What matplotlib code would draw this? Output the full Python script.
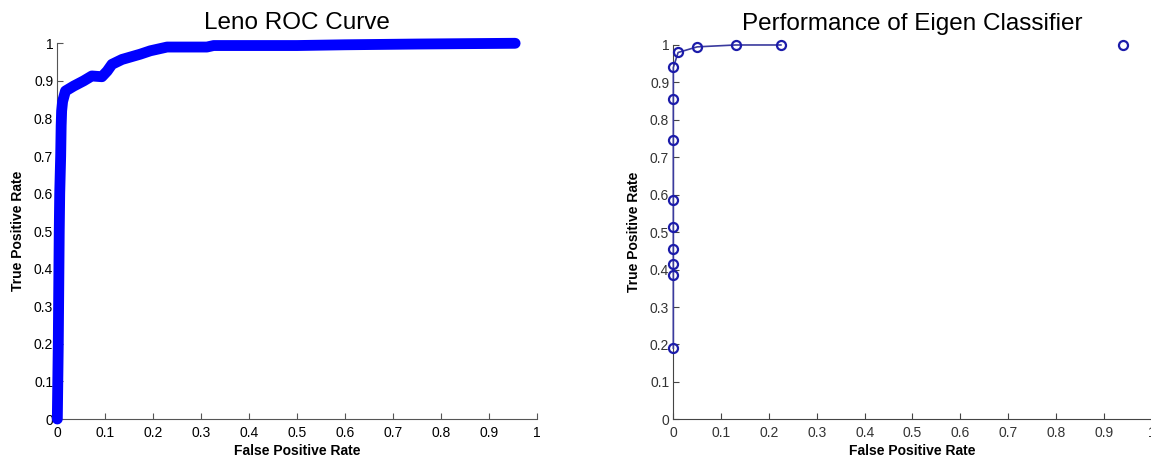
import numpy as np
import matplotlib.pyplot as plt

plt.rcParams['font.family'] = ['Liberation Sans', 'DejaVu Sans']

# Leno ROC curve
leno_fpr = [0.0, 0.001, 0.002, 0.003, 0.004, 0.005, 0.007, 0.008, 0.009, 0.011,
            0.017, 0.034, 0.055, 0.072, 0.093, 0.104, 0.114, 0.135, 0.173,
            0.194, 0.229, 0.312, 0.326, 0.5, 0.6, 0.75, 0.85, 0.955]
leno_tpr = [0.0, 0.1, 0.2, 0.35, 0.5, 0.6, 0.7, 0.78, 0.82, 0.845,
            0.873, 0.886, 0.900, 0.913, 0.911, 0.926, 0.944, 0.957, 0.971,
            0.980, 0.990, 0.990, 0.994, 0.994, 0.996, 0.998, 0.999, 1.0]

# Eigen classifier operating points
eigen_fpr = [0.0, 0.0, 0.0, 0.0, 0.0, 0.0, 0.0, 0.0, 0.0, 0.01, 0.05, 0.13, 0.225]
eigen_tpr = [0.19, 0.385, 0.415, 0.455, 0.515, 0.585, 0.745, 0.855, 0.94, 0.98, 0.995, 1.0, 1.0]
extra_fpr = [0.94]
extra_tpr = [1.0]

ticks = np.round(np.arange(0, 1.01, 0.1), 1)
tick_labels = ["0", "0.1", "0.2", "0.3", "0.4", "0.5", "0.6", "0.7", "0.8", "0.9", "1"]

fig = plt.figure(figsize=(11.51, 4.59), dpi=100)
ax1 = fig.add_axes([0.0498, 0.0871, 0.4165, 0.8186])
ax2 = fig.add_axes([0.585, 0.0865, 0.4155, 0.8155])

# left: thick ROC curve
ax1.plot(leno_fpr, leno_tpr, color="#0000ff", lw=7.8, solid_capstyle="round",
         solid_joinstyle="round", clip_on=False, zorder=3)
ax1.set_title("Leno ROC Curve", fontsize=17.5, pad=10.5)

# right: eigen classifier
ax2.plot(eigen_fpr, eigen_tpr, color="#3a3a9e", lw=1.2, marker="o", ms=6.5,
         mfc="none", mec="#1c1caa", mew=1.6, clip_on=False, zorder=3)
ax2.plot(extra_fpr, extra_tpr, ls="none", marker="o", ms=6.5,
         mfc="none", mec="#1c1caa", mew=1.6, clip_on=False, zorder=3)
ax2.set_title("Performance of Eigen Classifier", fontsize=17.5, pad=10.5)

for ax, col, lcol in ((ax1, "#555555", "black"), (ax2, "#444444", "#333333")):
    ax.set_xlim(0, 1) ; ax.set_ylim(0, 1)
    ax.set_xticks(ticks) ; ax.set_yticks(ticks)
    ax.set_xticklabels(tick_labels) ; ax.set_yticklabels(tick_labels)
    ax.tick_params(direction="in", length=4, width=0.8, labelsize=10,
                   color=col, labelcolor=lcol)
    ax.tick_params(axis="x", pad=5)
    ax.tick_params(axis="y", pad=3)
    ax.spines["top"].set_visible(False)
    ax.spines["right"].set_visible(False)
    ax.spines["left"].set_color(col) ; ax.spines["bottom"].set_color(col)
    ax.set_xlabel("False Positive Rate", fontsize=10, fontweight="bold", labelpad=3)
    ax.set_ylabel("True Positive Rate", fontsize=10, fontweight="bold", labelpad=6)

fig.savefig("out.png", dpi=100)
